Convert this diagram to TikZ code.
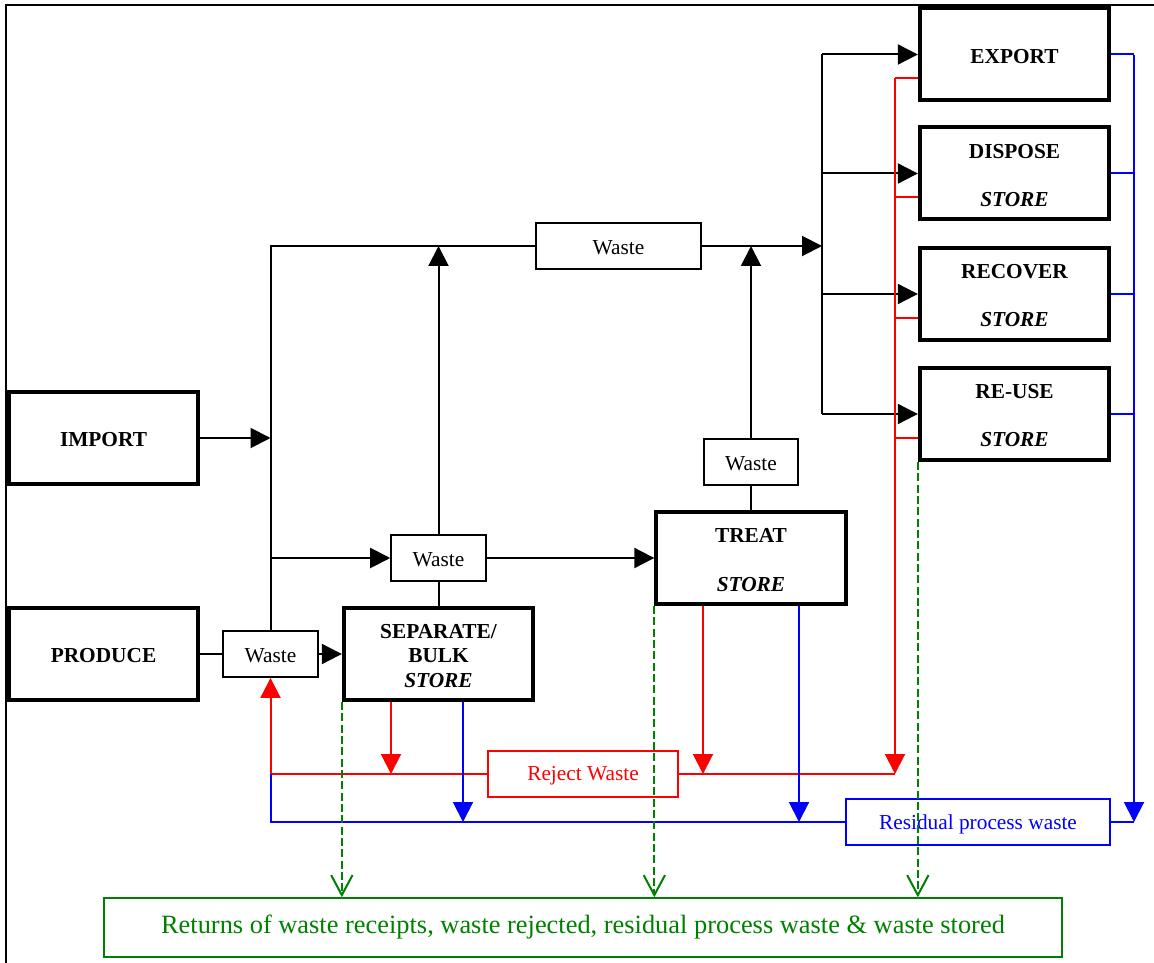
\documentclass[tikz,border=0pt]{standalone}
\usepackage{fontspec}
\setmainfont{Liberation Serif}
\usetikzlibrary{arrows.meta}
\definecolor{gr}{RGB}{0,128,0}
\newcommand{\dn}[1]{\raisebox{-1.5pt}[\height][\depth]{#1}}
\begin{document}
\begin{tikzpicture}[x=0.75pt,y=-0.75pt,
  bigbox/.style={draw, line width=3pt, minimum width=142pt, minimum height=69pt, inner sep=0pt, align=center, font=\fontsize{16}{19}\selectfont\bfseries},
  wbox/.style={draw, line width=1.4pt, minimum height=34.5pt, inner sep=0pt, font=\fontsize{16}{19}\selectfont},
  ln/.style={line width=1.5pt},
  blk/.style={ln, -{Triangle[length=15pt,width=15pt]}},
  rln/.style={ln, red},
  redarr/.style={rln, -{Triangle[length=15pt,width=15pt]}},
  bln/.style={ln, blue},
  bluearr/.style={bln, -{Triangle[length=15pt,width=15pt]}},
  garr/.style={ln, gr, dash pattern=on 6pt off 2.5pt, -{Straight Barb[length=15pt,width=16pt]}}
]
\useasboundingbox (0,0) rectangle (1154,963);
\draw[line width=2pt] (6,963) -- (6,5) -- (1154,5);

% main boxes
\node[bigbox] (export) at (1014.5,54.5) {\dn{EXPORT}};
\node[bigbox] (dispose) at (1014.5,173.5) {\dn{DISPOSE}\\[17pt]\dn{\textit{STORE}}};
\node[bigbox] (recover) at (1014.5,294) {\dn{RECOVER}\\[17pt]\dn{\textit{STORE}}};
\node[bigbox] (reuse) at (1014.5,414) {\dn{RE-USE}\\[17pt]\dn{\textit{STORE}}};
\node[bigbox] (import) at (103.5,438) {\dn{IMPORT}};
\node[bigbox] (produce) at (103.5,654) {\dn{PRODUCE}};
\node[bigbox, font=\fontsize{16}{18.4}\selectfont\bfseries] (sep) at (438.5,654) {\dn{SEPARATE/}\\\dn{BULK}\\\dn{\textit{STORE}}};
\node[bigbox] (treat) at (751,558) {\dn{TREAT}\\[17.5pt]\dn{\textit{STORE}}};

% small boxes
\node[wbox, minimum width=123.75pt] (wtop) at (618.5,246) {\dn{Waste}};
\node[wbox, minimum width=71pt] (wtreat) at (751,462) {\dn{Waste}};
\node[wbox, minimum width=71pt] (wmid) at (438.5,558) {\dn{Waste}};
\node[wbox, minimum width=71pt] (wprod) at (270.5,654) {\dn{Waste}};
\node[wbox, draw=red, text=red, minimum width=142.5pt] (reject) at (583,774) {\dn{Reject Waste}};
\node[wbox, draw=blue, text=blue, minimum width=198pt] (resid) at (978,822) {\dn{Residual process waste}};
\node[wbox, draw=gr, text=gr, minimum width=718pt, minimum height=44pt, font=\fontsize{19.8}{23}\selectfont] (returns) at (583,927.5) {Returns of waste receipts, waste rejected, residual process waste \& waste stored};

% bus coordinates
\coordinate (tl) at (270.5,246);
\coordinate (kb) at (822,246);
\coordinate (rt) at (895,78);
\coordinate (rb) at (895,774);
\coordinate (bt) at (1134,55);
\coordinate (bb) at (1134,822);
\coordinate (rl) at (270.5,774);
\coordinate (bl) at (270.5,822);

% black flows
\draw[ln] (wprod.north) -- (tl) -- (wtop.west);
\draw[blk] (wtop.east) -- (kb);
\draw[blk] (import.east) -- (import.east -| tl);
\draw[blk] (wmid.west -| tl) -- (wmid.west);
\draw[blk] (wmid.east) -- (treat.west);
\draw[ln] (sep.north) -- (wmid.south);
\draw[blk] (wmid.north) -- (wmid.north |- tl);
\draw[ln] (treat.north) -- (wtreat.south);
\draw[blk] (wtreat.north) -- (wtreat.north |- tl);
\draw[ln] (produce.east) -- (wprod.west);
\draw[blk] (wprod.east) -- (sep.west);
\draw[ln] (export.west -| kb) -- (reuse.west -| kb);
\foreach \b in {export,dispose,recover,reuse}{
  \draw[blk] (\b.west -| kb) -- (\b.west);
}

% red flows
\draw[redarr] (rt) -- (rb);
\foreach \b in {export,dispose,recover,reuse}{
  \draw[rln] ([yshift=-18pt]\b.west) -- ([yshift=-18pt]\b.west -| rt);
}
\draw[redarr] (391,0 |- sep.south) -- (391,0 |- rb);
\draw[redarr] (703,0 |- treat.south) -- (703,0 |- rb);
\draw[rln] (rl) -- (reject.west);
\draw[rln] (reject.east) -- (rb);
\draw[redarr] (rl) -- (wprod.south);

% blue flows
\draw[bluearr] (bt) -- (bb);
\foreach \b in {export,dispose,recover,reuse}{
  \draw[bln] (\b.east) -- (\b.east -| bb);
}
\draw[bln] (resid.east) -- (bb);
\draw[bluearr] (463,0 |- sep.south) -- (463,0 |- bb);
\draw[bluearr] (799,0 |- treat.south) -- (799,0 |- bb);
\draw[bln] (rl) -- (bl) -- (resid.west);

% green returns
\draw[garr] (sep.south west) -- (sep.south west |- returns.north);
\draw[garr] (treat.south west) -- (treat.south west |- returns.north);
\draw[garr] (reuse.south west) -- (reuse.south west |- returns.north);
\end{tikzpicture}
\end{document}
